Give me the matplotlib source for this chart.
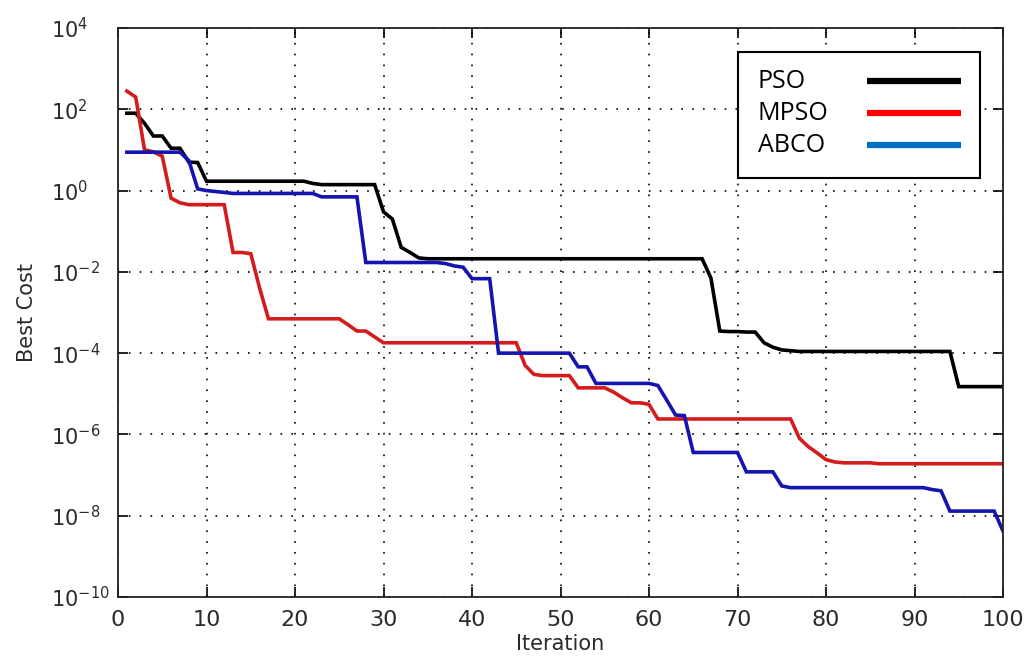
import matplotlib
matplotlib.use("Agg")
import matplotlib.pyplot as plt
from matplotlib.lines import Line2D
from matplotlib.patches import Rectangle

iterations = list(range(1, 101))

pso = [80, 80, 45, 22, 22, 11, 11, 5, 4.9, 1.7,
       1.7, 1.7, 1.7, 1.7, 1.7, 1.7, 1.7, 1.7, 1.7, 1.7,
       1.7, 1.5, 1.4, 1.4, 1.4, 1.4, 1.4, 1.4, 1.4, 0.3,
       0.2, 0.04, 0.03, 0.022, 0.021, 0.021, 0.021, 0.021, 0.021, 0.021,
       0.021, 0.021, 0.021, 0.021, 0.021, 0.021, 0.021, 0.021, 0.021, 0.021,
       0.021, 0.021, 0.021, 0.021, 0.021, 0.021, 0.021, 0.021, 0.021, 0.021,
       0.021, 0.021, 0.021, 0.021, 0.021, 0.021, 0.007, 3.5e-4, 3.4e-4, 3.4e-4,
       3.3e-4, 3.3e-4, 1.8e-4, 1.4e-4, 1.2e-4, 1.15e-4, 1.1e-4, 1.1e-4, 1.1e-4, 1.1e-4,
       1.1e-4, 1.1e-4, 1.1e-4, 1.1e-4, 1.1e-4, 1.1e-4, 1.1e-4, 1.1e-4, 1.1e-4, 1.1e-4,
       1.1e-4, 1.1e-4, 1.1e-4, 1.1e-4, 1.5e-5, 1.5e-5, 1.5e-5, 1.5e-5, 1.5e-5, 1.5e-5]

mpso = [280, 200, 10, 9, 7, 0.65, 0.5, 0.45, 0.45, 0.45,
        0.45, 0.45, 0.03, 0.03, 0.028, 0.004, 7e-4, 7e-4, 7e-4, 7e-4,
        7e-4, 7e-4, 7e-4, 7e-4, 7e-4, 5e-4, 3.5e-4, 3.5e-4, 2.5e-4, 1.8e-4,
        1.8e-4, 1.8e-4, 1.8e-4, 1.8e-4, 1.8e-4, 1.8e-4, 1.8e-4, 1.8e-4, 1.8e-4, 1.8e-4,
        1.8e-4, 1.8e-4, 1.8e-4, 1.8e-4, 1.8e-4, 5e-5, 3e-5, 2.8e-5, 2.8e-5, 2.8e-5,
        2.8e-5, 1.4e-5, 1.4e-5, 1.4e-5, 1.4e-5, 1.1e-5, 8e-6, 6e-6, 6e-6, 5.5e-6,
        2.4e-6, 2.4e-6, 2.4e-6, 2.4e-6, 2.4e-6, 2.4e-6, 2.4e-6, 2.4e-6, 2.4e-6, 2.4e-6,
        2.4e-6, 2.4e-6, 2.4e-6, 2.4e-6, 2.4e-6, 2.4e-6, 8e-7, 5e-7, 3.5e-7, 2.4e-7,
        2.1e-7, 2e-7, 2e-7, 2e-7, 2e-7, 1.9e-7, 1.9e-7, 1.9e-7, 1.9e-7, 1.9e-7,
        1.9e-7, 1.9e-7, 1.9e-7, 1.9e-7, 1.9e-7, 1.9e-7, 1.9e-7, 1.9e-7, 1.9e-7, 1.9e-7]

abco = [8.8, 8.8, 8.8, 8.8, 8.8, 8.8, 8.8, 5.5, 1.1, 1.0,
        0.95, 0.9, 0.85, 0.85, 0.85, 0.85, 0.85, 0.85, 0.85, 0.85,
        0.85, 0.85, 0.7, 0.7, 0.7, 0.7, 0.7, 0.017, 0.017, 0.017,
        0.017, 0.017, 0.017, 0.017, 0.017, 0.017, 0.016, 0.014, 0.013, 0.0068,
        0.0068, 0.0068, 1e-4, 1e-4, 1e-4, 1e-4, 1e-4, 1e-4, 1e-4, 1e-4,
        1e-4, 4.6e-5, 4.6e-5, 1.8e-5, 1.8e-5, 1.8e-5, 1.8e-5, 1.8e-5, 1.8e-5, 1.8e-5,
        1.6e-5, 7e-6, 3e-6, 2.9e-6, 3.6e-7, 3.6e-7, 3.6e-7, 3.6e-7, 3.6e-7, 3.6e-7,
        1.2e-7, 1.2e-7, 1.2e-7, 1.2e-7, 5.4e-8, 4.9e-8, 4.9e-8, 4.9e-8, 4.9e-8, 4.9e-8,
        4.9e-8, 4.9e-8, 4.9e-8, 4.9e-8, 4.9e-8, 4.9e-8, 4.9e-8, 4.9e-8, 4.9e-8, 4.9e-8,
        4.9e-8, 4.4e-8, 4.1e-8, 1.3e-8, 1.3e-8, 1.3e-8, 1.3e-8, 1.3e-8, 1.3e-8, 4.2e-9]

series_names = ["PSO", "MPSO", "ABCO"]
x_ticks = [0, 10, 20, 30, 40, 50, 60, 70, 80, 90, 100]
y_exponents = [-10, -8, -6, -4, -2, 0, 2, 4]

plt.rcParams['font.family'] = ['DejaVu Sans']
plt.rcParams['mathtext.default'] = 'regular'

fig = plt.figure(figsize=(10.27, 6.57), dpi=100)
ax = fig.add_axes([118/1027, 1 - 597/657, (1003-118)/1027, (597-28)/657])

line_colors = ['#000000', '#d41c1c', '#1414b0']
for vals, c in zip([pso, mpso, abco], line_colors):
    ax.plot(iterations, vals, color=c, linewidth=2.6, solid_joinstyle='miter')

ax.set_yscale('log')
ax.set_xlim(0, 100)
ax.set_ylim(1e-10, 1e4)
ax.set_xticks(x_ticks)
ax.set_xticklabels([str(t) for t in x_ticks])
ax.set_yticks([10.0**e for e in y_exponents])
ax.set_yticklabels([r'$10^{%d}$' % e for e in y_exponents])
ax.yaxis.set_minor_locator(matplotlib.ticker.NullLocator())
ax.tick_params(axis='both', which='major', direction='in', length=7, width=1.2,
               top=True, right=True, labelcolor='#2a2a2a')
ax.tick_params(axis='x', pad=9, labelsize=16)
ax.tick_params(axis='y', pad=48, labelsize=15)
for lbl in ax.get_yticklabels():
    lbl.set_horizontalalignment('left')
ax.grid(True, which='major', color='black', linestyle=(0, (1, 5.5)), linewidth=1.2)
for s in ax.spines.values():
    s.set_linewidth(1.3)
    s.set_color('#222222')

ax.set_xlabel('Iteration', fontsize=15, color='#2a2a2a', labelpad=3)
ax.set_ylabel('Best Cost', fontsize=15, color='#2a2a2a', labelpad=10)

# legend box drawn in figure pixel coordinates
legend_colors = ['#000000', '#ff0000', '#0070c0']
def fx(px):
    return px / 1027
def fy(py):
    return 1 - py / 657
fig.patches.append(Rectangle((fx(738), fy(178)), fx(980) - fx(738), fy(52) - fy(178),
                             transform=fig.transFigure, facecolor='white',
                             edgecolor='black', linewidth=1.5, zorder=5))
rows_y = [81, 113, 145]
for name, c, yy in zip(series_names, legend_colors, rows_y):
    fig.text(fx(758), fy(yy), name, fontsize=18, family=['Open Sans', 'DejaVu Sans'],
             va='center', ha='left', color='black', zorder=6)
    fig.lines.append(Line2D([fx(867), fx(961)], [fy(yy), fy(yy)], transform=fig.transFigure,
                            color=c, linewidth=4.5, zorder=6, solid_capstyle='butt'))

fig.savefig('out.png', dpi=100, facecolor='white')
